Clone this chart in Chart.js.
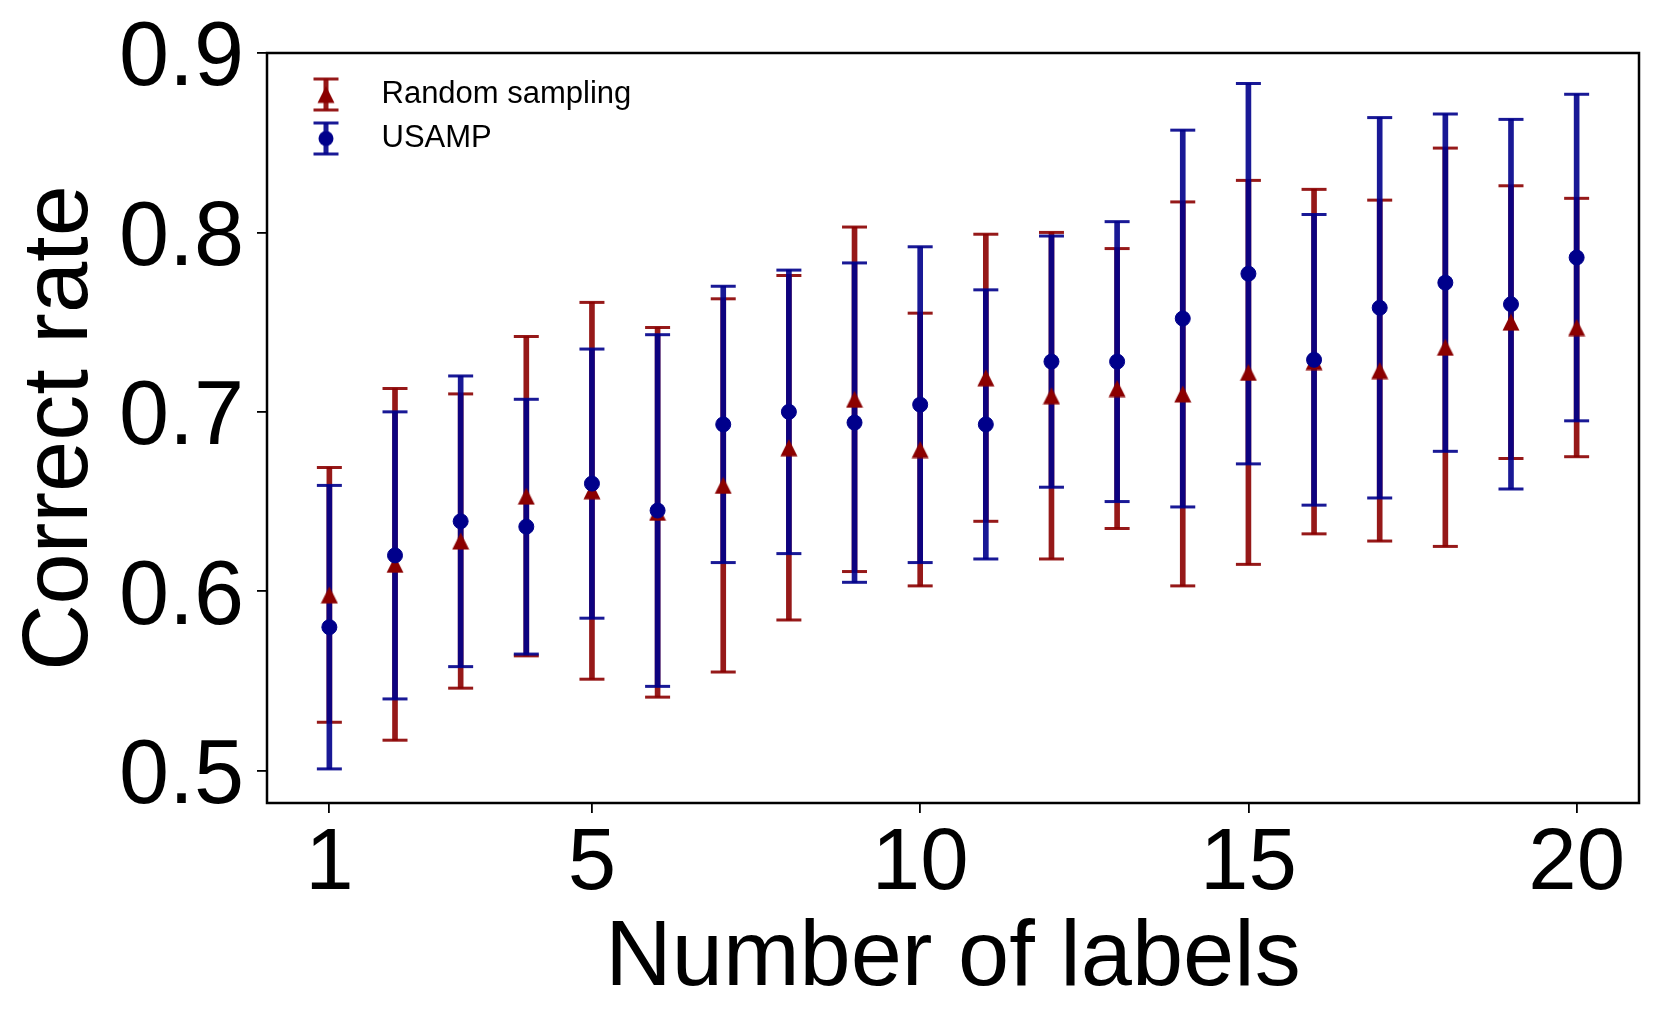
<!DOCTYPE html>
<html>
<head>
<meta charset="utf-8">
<title>Correct rate vs number of labels</title>
<script src="https://cdn.jsdelivr.net/npm/chart.js@4.4.1/dist/chart.umd.min.js"></script>
<style>
  html, body { margin: 0; padding: 0; background: #fff; }
  #wrap { width: 1661px; height: 1028px; }
</style>
</head>
<body>
<div id="wrap"><canvas id="chart"></canvas></div>
<script>
// number of labels (x) and mean correct rate +/- error for each method
var labelCounts = [1, 2, 3, 4, 5, 6, 7, 8, 9, 10, 11, 12, 13, 14, 15, 16, 17, 18, 19, 20];
var randomMean = [0.598, 0.615, 0.628, 0.653, 0.656, 0.644, 0.659, 0.680, 0.707, 0.679,
                  0.719, 0.709, 0.713, 0.710, 0.722, 0.728, 0.723, 0.736, 0.750, 0.747];
var randomErr  = [0.071, 0.098, 0.082, 0.089, 0.105, 0.103, 0.104, 0.096, 0.096, 0.076,
                  0.080, 0.091, 0.078, 0.107, 0.107, 0.096, 0.095, 0.111, 0.076, 0.072];
var usampMean  = [0.580, 0.620, 0.639, 0.636, 0.660, 0.645, 0.693, 0.700, 0.694, 0.704,
                  0.693, 0.728, 0.728, 0.752, 0.777, 0.729, 0.758, 0.772, 0.760, 0.786];
var usampErr   = [0.079, 0.080, 0.081, 0.071, 0.075, 0.098, 0.077, 0.079, 0.089, 0.088,
                  0.075, 0.070, 0.078, 0.105, 0.106, 0.081, 0.106, 0.094, 0.103, 0.091];
var xTicks = [1, 5, 10, 15, 20];
var yTicks = [0.5, 0.6, 0.7, 0.8, 0.9];

var FONT = '"Liberation Sans", Arial, Helvetica, sans-serif';
var RED = '#8b0000', BLUE = '#00008b';
var RED_BAR = 'rgba(139,0,0,0.9)', BLUE_BAR = 'rgba(0,0,139,0.9)';

Chart.defaults.font.family = FONT;
Chart.defaults.color = '#000';

function stems(mean, err) {
    return labelCounts.map(function (x, i) {
        return {x: x, y: [mean[i] - err[i], mean[i] + err[i]]};
    });
}
function caps(mean, err) {
    var pts = [];
    labelCounts.forEach(function (x, i) {
        pts.push({x: x, y: mean[i] - err[i]});
        pts.push({x: x, y: mean[i] + err[i]});
    });
    return pts;
}
function points(mean) {
    return labelCounts.map(function (x, i) { return {x: x, y: mean[i]}; });
}

// matplotlib style "^" marker, centred on its bounding box
function triangleIcon(size, color) {
    var c = document.createElement('canvas');
    c.width = size; c.height = size;
    var g = c.getContext('2d');
    g.fillStyle = color;
    g.beginPath();
    g.moveTo(size / 2, 0.5);
    g.lineTo(size - 0.5, size - 0.5);
    g.lineTo(0.5, size - 0.5);
    g.closePath();
    g.fill();
    return c;
}

// small errorbar glyph for the legend
function legendIcon(color, barColor, marker) {
    var c = document.createElement('canvas');
    c.width = 36; c.height = 36;
    var g = c.getContext('2d');
    var cx = 21;
    g.strokeStyle = barColor;
    g.lineWidth = 5;
    g.beginPath(); g.moveTo(cx, 2.5); g.lineTo(cx, 33.5); g.stroke();
    g.lineWidth = 3;
    g.beginPath();
    g.moveTo(cx - 12.5, 2.5); g.lineTo(cx + 12.5, 2.5);
    g.moveTo(cx - 12.5, 33.5); g.lineTo(cx + 12.5, 33.5);
    g.stroke();
    if (marker === 'triangle') {
        g.drawImage(triangleIcon(18, color), cx - 9, 9);
    } else {
        g.fillStyle = color;
        g.beginPath(); g.arc(cx, 18, 7.5, 0, 2 * Math.PI); g.fill();
    }
    return c;
}

var framePlugin = {
    id: 'frame',
    afterDraw: function (chart) {
        var a = chart.chartArea, g = chart.ctx;
        g.save();
        g.strokeStyle = '#000';
        g.lineWidth = 2.5;
        g.strokeRect(a.left, a.top, a.right - a.left, a.bottom - a.top);
        g.restore();
    }
};

var ctx = document.getElementById('chart').getContext('2d');

new Chart(ctx, {
    type: 'scatter',
    data: {
        datasets: [
            {
                type: 'bar', label: 'Random sampling',
                data: stems(randomMean, randomErr),
                backgroundColor: RED_BAR, borderWidth: 0,
                barThickness: 5, maxBarThickness: 5, grouped: false, order: 6
            },
            {
                label: 'Random sampling caps',
                data: caps(randomMean, randomErr),
                pointStyle: 'line', pointRadius: 12.5, pointBorderWidth: 3,
                pointBorderColor: RED_BAR, showLine: false, order: 5
            },
            {
                type: 'bar', label: 'USAMP',
                data: stems(usampMean, usampErr),
                backgroundColor: BLUE_BAR, borderWidth: 0,
                barThickness: 5, maxBarThickness: 5, grouped: false, order: 4
            },
            {
                label: 'USAMP caps',
                data: caps(usampMean, usampErr),
                pointStyle: 'line', pointRadius: 12.5, pointBorderWidth: 3,
                pointBorderColor: BLUE_BAR, showLine: false, order: 3
            },
            {
                label: 'Random sampling mean',
                data: points(randomMean),
                pointStyle: triangleIcon(18, RED), pointRadius: 9,
                showLine: false, order: 2
            },
            {
                label: 'USAMP mean',
                data: points(usampMean),
                pointStyle: 'circle', pointRadius: 7.5, pointBorderWidth: 1,
                pointBackgroundColor: BLUE, pointBorderColor: BLUE,
                showLine: false, order: 1
            }
        ]
    },
    options: {
        responsive: true,
        maintainAspectRatio: false,
        devicePixelRatio: 1,
        animation: false,
        events: [],
        layout: {
            padding: {top: 53, right: 22, left: 0, bottom: 0}
        },
        scales: {
            x: {
                type: 'linear',
                min: 0.05,
                max: 20.95,
                offset: false,
                afterBuildTicks: function (scale) {
                    scale.ticks = xTicks.map(function (v) { return {value: v}; });
                },
                afterFit: function (scale) { scale.height = 225; },
                grid: {
                    display: true, drawOnChartArea: false, drawTicks: true,
                    tickLength: 10, color: '#000', lineWidth: 1.8, offset: false
                },
                border: {display: false},
                ticks: {
                    autoSkip: false, maxRotation: 0, padding: 9, color: '#000',
                    font: {size: 87, lineHeight: 1},
                    callback: function (v) { return String(v); }
                },
                title: {
                    display: true,
                    text: 'Number of labels',
                    color: '#000',
                    font: {size: 92, lineHeight: 1},
                    padding: {top: 0, bottom: 22}
                }
            },
            y: {
                type: 'linear',
                min: 0.482,
                max: 0.9,
                beginAtZero: false,
                afterBuildTicks: function (scale) {
                    scale.ticks = yTicks.map(function (v) { return {value: v}; });
                },
                afterFit: function (scale) { scale.width = 267; },
                grid: {
                    display: true, drawOnChartArea: false, drawTicks: true,
                    tickLength: 10, color: '#000', lineWidth: 1.8
                },
                border: {display: false},
                ticks: {
                    padding: 13, color: '#000',
                    // two-line label (empty first line) nudges the number a few px below the tick, as matplotlib does
                    font: {size: 90, lineHeight: 15 / 90},
                    callback: function (v) { return ['', v.toFixed(1)]; }
                },
                title: {
                    display: true,
                    text: 'Correct rate',
                    color: '#000',
                    font: {size: 92, lineHeight: 1},
                    padding: {top: 16, bottom: 0}
                }
            }
        },
        plugins: {
            tooltip: {enabled: false},
            legend: {
                display: true,
                position: 'chartArea',
                align: 'start',
                title: {display: true, text: '', padding: 0, font: {size: 66, lineHeight: 1}},
                labels: {
                    usePointStyle: true,
                    pointStyleWidth: 86,
                    padding: 13,
                    color: '#000',
                    font: {size: 31},
                    generateLabels: function () {
                        return [
                            {text: 'Random sampling', pointStyle: legendIcon(RED, RED_BAR, 'triangle'),
                             fillStyle: RED, strokeStyle: RED, lineWidth: 0, hidden: false, datasetIndex: 0},
                            {text: 'USAMP', pointStyle: legendIcon(BLUE, BLUE_BAR, 'circle'),
                             fillStyle: BLUE, strokeStyle: BLUE, lineWidth: 0, hidden: false, datasetIndex: 2}
                        ];
                    }
                }
            }
        }
    },
    plugins: [framePlugin]
});
</script>
</body>
</html>
